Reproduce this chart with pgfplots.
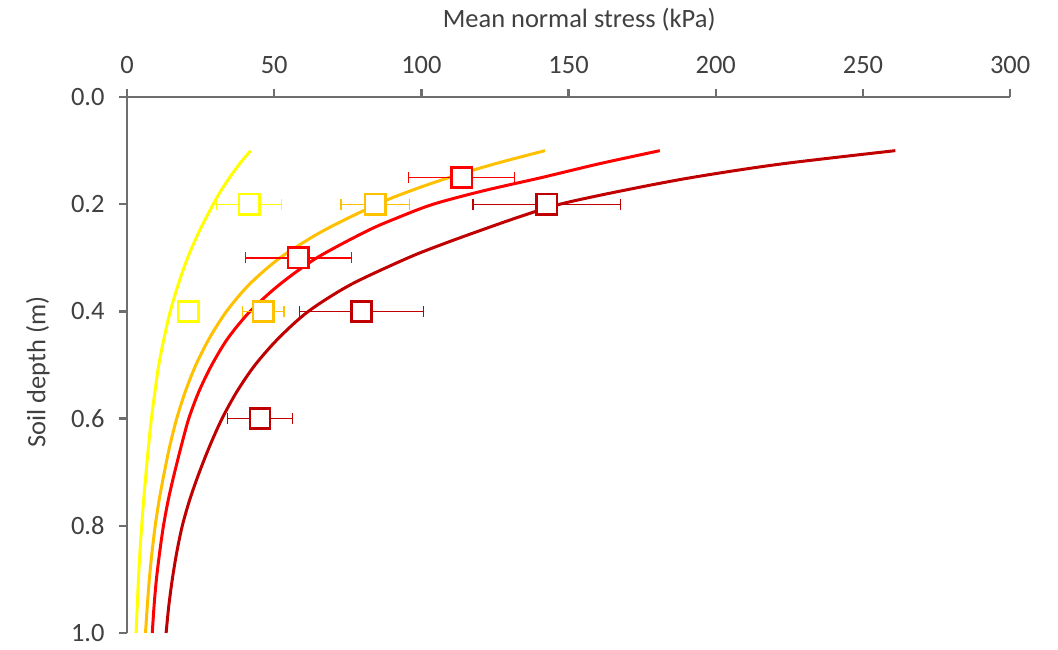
\documentclass[border=0pt]{standalone}
\usepackage{pgfplots}
\pgfplotsset{compat=1.18}
\usepackage{fontspec}
\setmainfont{Carlito}
\definecolor{cyel}{RGB}{255,255,0}
\definecolor{cora}{RGB}{255,192,0}
\definecolor{cred}{RGB}{255,0,0}
\definecolor{cdrk}{RGB}{192,0,0}
\definecolor{axg}{RGB}{110,110,110}
\definecolor{txt}{RGB}{64,64,64}
\pgfplotsset{
  model/.style={line width=1.3pt, smooth, tension=0.5},
  meas/.style={only marks, mark=square*, mark size=4.4pt,
    mark options={fill=white, line width=1.1pt},
    error bars/.cd, x dir=both, x explicit, error mark=|,
    error bar style={line width=0.6pt},
    error mark options={line width=0.6pt, mark size=2.4pt}},
}
\begin{document}
\begin{tikzpicture}
\begin{axis}[
  scale only axis, width=384pt, height=233pt,
  xmin=0, xmax=300, ymin=0, ymax=1, y dir=reverse,
  axis x line*=top, axis y line*=left, axis line style={-, axg, line width=1.1pt},
  xtick={0,50,...,300}, ytick={0,0.2,...,1.0},
  tick align=outside, major tick length=3.5pt,
  tick style={axg, line width=1pt},
  /pgf/number format/assume math mode=true,
  tick label style={font=\fontsize{11.5}{13}\selectfont, text=txt},
  xticklabel style={yshift=3.1pt},
  yticklabel style={xshift=-2.7pt, /pgf/number format/.cd, fixed, fixed zerofill, precision=1},
  xlabel={Mean normal stress (kPa)}, ylabel={Soil depth (m)},
  label style={font=\fontsize{11.5}{13}\selectfont, text=txt},
  xlabel style={at={(axis description cs:0.512,1)}, anchor=center, yshift=33.7pt},
  ylabel style={at={(axis description cs:-0.1008,0.487)}, anchor=center},
  clip=false,
]
% model curves
\addplot[cyel, model] coordinates {
(42,0.1) (38.2,0.125) (34.9,0.15) (31.9,0.175) (29.3,0.2) (24.6,0.25) (20.6,0.3) (17.4,0.35)
(14.7,0.4) (12.6,0.45) (10.8,0.5) (9.5,0.55) (8.3,0.6) (7.35,0.65) (6.5,0.7) (5.7,0.75) (5.0,0.8)
(4.4,0.85) (3.9,0.9) (3.5,0.95) (3.1,1.0)};
\addplot[cora, model] coordinates {
(142,0.1) (124.7,0.125) (109.5,0.15) (96.3,0.175) (85,0.2) (66.5,0.25) (52,0.3) (41.5,0.35)
(33.8,0.4) (28.0,0.45) (23.4,0.5) (19.8,0.55) (16.9,0.6) (14.6,0.65) (12.7,0.7) (11.0,0.75) (9.6,0.8)
(8.5,0.85) (7.6,0.9) (6.9,0.95) (6.3,1.0)};
\addplot[cred, model] coordinates {
(181,0.1) (160,0.125) (141,0.15) (121,0.175) (104,0.2) (92,0.225) (81.5,0.25) (64.5,0.3) (51.8,0.35)
(41.8,0.4) (34.3,0.45) (28.8,0.5) (24.4,0.55) (21.0,0.6) (18.5,0.65) (16.2,0.7) (14.1,0.75) (12.4,0.8)
(11.1,0.85) (10.0,0.9) (9.2,0.95) (8.6,1.0)};
\addplot[cdrk, model] coordinates {
(261,0.1) (222,0.125) (192,0.15) (168,0.175) (147,0.2) (132.5,0.225) (119.5,0.25) (107,0.275) (95.5,0.3)
(76,0.35) (61.6,0.4) (51.5,0.45) (43.5,0.5) (37.3,0.55) (32.3,0.6) (28.2,0.65) (24.6,0.7) (21.4,0.75) (18.8,0.8)
(16.9,0.85) (15.4,0.9) (14.2,0.95) (13.3,1.0)};
% measured data
\addplot[cyel, meas] coordinates {(41.5,0.2) +- (11,0) (20.8,0.4) +- (0,0)};
\addplot[cora, meas] coordinates {(84.3,0.2) +- (11.6,0) (46.3,0.4) +- (7,0)};
\addplot[cred, meas] coordinates {(113.7,0.15) +- (18,0) (58.2,0.3) +- (18,0)};
\addplot[cdrk, meas] coordinates {(142.6,0.2) +- (25,0) (79.7,0.4) +- (21,0) (45.2,0.6) +- (11,0)};
\end{axis}
\path (current axis.south west) ++(-55.2pt,-6.1pt) rectangle ++(460pt,281.3pt);
\end{tikzpicture}
\end{document}
